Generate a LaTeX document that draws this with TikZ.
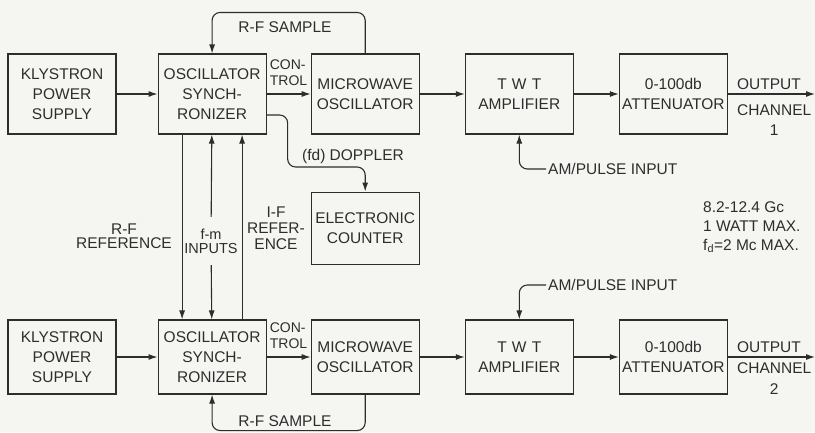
\documentclass[tikz,border=0pt]{standalone}
\usepackage{fontspec}
\setmainfont{Liberation Sans}
\usepackage{tikz}
\usetikzlibrary{arrows.meta,positioning}
\definecolor{paper}{RGB}{245,245,242}
\definecolor{ink}{RGB}{45,45,45}

\begin{document}
\begin{tikzpicture}[
  x=1pt, y=-1pt,
  node distance=44pt,
  blk/.style={draw=ink,line width=1.1pt,minimum width=108pt,minimum height=#1,
              inner sep=1pt,align=center,text=ink,font=\fontsize{15.5}{20}\selectfont},
  blk/.default=80pt,
  lbl/.style={inner sep=2pt,align=center,text=ink,font=\fontsize{15.5}{#1}\selectfont},
  lbl/.default=16pt,
  arr/.style={-{Latex[length=9pt,width=6pt]},line width=1.1pt,draw=ink},
  wire/.style={line width=1.1pt,draw=ink}
]
\fill[paper] (0,0) rectangle (815,432);
\useasboundingbox (0,0) rectangle (815,432);

\node[blk] (kps1) at (62,94) {KLYSTRON\\POWER\\SUPPLY};
\node[blk,right=41pt of kps1] (os1) {OSCILLATOR\\SYNCH-\\RONIZER};
\node[blk,right=of os1]       (mo1) {MICROWAVE\\OSCILLATOR};
\node[blk,right=45pt of mo1]  (twt1) {T\,\,W\,\,T\\AMPLIFIER};
\node[blk,right=45pt of twt1] (att1) {0-100db\\ATTENUATOR};
\node[blk=72pt,below=57pt of mo1] (cnt) {ELECTRONIC\\COUNTER};

\node[blk=74pt] (kps2) at (62,357) {KLYSTRON\\POWER\\SUPPLY};
\node[blk=74pt,right=41pt of kps2] (os2) {OSCILLATOR\\SYNCH-\\RONIZER};
\node[blk=74pt,right=of os2]       (mo2) {MICROWAVE\\OSCILLATOR};
\node[blk=74pt,right=45pt of mo2]  (twt2) {T\,\,W\,\,T\\AMPLIFIER};
\node[blk=74pt,right=45pt of twt2] (att2) {0-100db\\ATTENUATOR};

\coordinate (out1) at (815,94);
\coordinate (out2) at (815,357);

\draw[arr] (kps1) -- (os1);
\draw[arr] (os1)  -- (mo1);
\draw[arr] (mo1)  -- (twt1);
\draw[arr] (twt1) -- (att1);
\draw[arr] (att1) -- (out1);
\draw[arr] (kps2) -- (os2);
\draw[arr] (os2)  -- (mo2);
\draw[arr] (mo2)  -- (twt2);
\draw[arr] (twt2) -- (att2);
\draw[arr] (att2) -- (out2);

\node[lbl,align=left,anchor=south west,font=\fontsize{14}{16}\selectfont] (ctl1)
  at ([xshift=1pt,yshift=6pt]os1.east) {CON-\\TROL};
\node[lbl,align=left,anchor=south west,font=\fontsize{14}{16}\selectfont] (ctl2)
  at ([xshift=1pt,yshift=6pt]os2.east) {CON-\\TROL};

\node[lbl,anchor=south west] (outl1) at ([xshift=7pt,yshift=2pt]att1.east) {OUTPUT};
\node[lbl=20pt,anchor=north west] (chl1) at ([xshift=7pt,yshift=-8pt]att1.east) {CHANNEL\\1};
\node[lbl,anchor=south west] (outl2) at ([xshift=7pt,yshift=2pt]att2.east) {OUTPUT};
\node[lbl=21pt,anchor=north west] (chl2) at ([xshift=7pt,yshift=-3pt]att2.east) {CHANNEL\\2};

\draw[arr,rounded corners=8pt] (mo1.north) -- ++(0,-41) -| (os1.north);
\node[lbl] (rfs1) at (285,27) {R-F SAMPLE};
\draw[arr,rounded corners=8pt] (mo2.south) -- ++(0,36) -| (os2.south);
\node[lbl] (rfs2) at (285,421) {R-F SAMPLE};

\node[lbl,anchor=west] (am1) at (546,169) {AM/PULSE INPUT};
\draw[arr,rounded corners=8pt] (am1.west) -| (twt1.south);
\node[lbl,anchor=west] (am2) at (546,285) {AM/PULSE INPUT};
\draw[arr,rounded corners=8pt] (am2.west) -| (twt2.north);

\draw[arr,rounded corners=8pt] ([yshift=-21pt]os1.east) -- ++(21,0) -- ++(0,52) -| (cnt.north);
\node[lbl] (dop) at (353,156) {(fd) DOPPLER};

\draw[arr] ([xshift=-30pt]os1.south) -- ([xshift=-30pt]os2.north);
\draw[arr] ([xshift=30pt]os2.north) -- ([xshift=30pt]os1.south);
\node[lbl=14pt,minimum height=48pt,inner xsep=0pt,font=\fontsize{14.5}{14}\selectfont]
  (fm) at (211,241) {f-m\\INPUTS};
\draw[arr] (fm) -- (os1);
\draw[arr] (fm) -- (os2);

\node[lbl=14pt,anchor=east] (rfref) at (174,236) {R-F\\REFERENCE};
\node[lbl] (ifref) at (276,228) {I-F\\REFER-\\ENCE};

\node[lbl=19pt,align=left,anchor=north west] (spec) at (701,199)
  {8.2-12.4 Gc\\1 WATT MAX.\\f\textsubscript{d}=2 Mc MAX.};
\end{tikzpicture}
\end{document}
